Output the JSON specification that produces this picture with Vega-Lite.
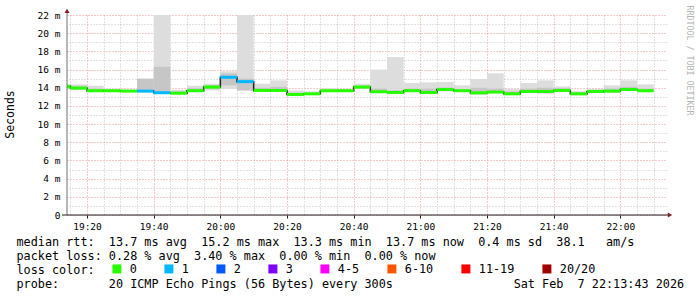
{
  "$schema": "https://vega.github.io/schema/vega-lite/v6.json",
  "width": 600,
  "height": 200,
  "autosize": {"type": "none"},
  "padding": {"left": 67, "top": 15, "right": 30, "bottom": 82},
  "background": "white",
  "config": {"view": {"stroke": null}},
  "datasets": {
    "ping": [
      {"start": "2026-02-07T19:10:00Z", "end": "2026-02-07T19:15:00Z", "med": 14.15, "loss": "0", "lo": 13.89, "hi": 14.37, "lo2": 13.95, "hi2": 14.30},
      {"start": "2026-02-07T19:15:00Z", "end": "2026-02-07T19:20:00Z", "med": 13.96, "loss": "0", "lo": 13.78, "hi": 14.37, "lo2": 13.85, "hi2": 14.22},
      {"start": "2026-02-07T19:20:00Z", "end": "2026-02-07T19:25:00Z", "med": 13.67, "loss": "0", "lo": 13.52, "hi": 14.22, "lo2": 13.56, "hi2": 13.90},
      {"start": "2026-02-07T19:25:00Z", "end": "2026-02-07T19:30:00Z", "med": 13.67, "loss": "0", "lo": 13.52, "hi": 13.89, "lo2": 13.56, "hi2": 13.78},
      {"start": "2026-02-07T19:30:00Z", "end": "2026-02-07T19:35:00Z", "med": 13.63, "loss": "0", "lo": 13.56, "hi": 13.78, "lo2": 13.58, "hi2": 13.70},
      {"start": "2026-02-07T19:35:00Z", "end": "2026-02-07T19:40:00Z", "med": 13.63, "loss": "1", "lo": 13.56, "hi": 15.04, "lo2": 13.56, "hi2": 14.95},
      {"start": "2026-02-07T19:40:00Z", "end": "2026-02-07T19:45:00Z", "med": 13.45, "loss": "1", "lo": 13.40, "hi": 22.00, "lo2": 13.40, "hi2": 16.30},
      {"start": "2026-02-07T19:45:00Z", "end": "2026-02-07T19:50:00Z", "med": 13.40, "loss": "0", "lo": 13.33, "hi": 13.78, "lo2": 13.35, "hi2": 13.60},
      {"start": "2026-02-07T19:50:00Z", "end": "2026-02-07T19:55:00Z", "med": 13.67, "loss": "0", "lo": 13.52, "hi": 14.22, "lo2": 13.56, "hi2": 13.95},
      {"start": "2026-02-07T19:55:00Z", "end": "2026-02-07T20:00:00Z", "med": 14.07, "loss": "0", "lo": 13.70, "hi": 14.44, "lo2": 13.85, "hi2": 14.30},
      {"start": "2026-02-07T20:00:00Z", "end": "2026-02-07T20:05:00Z", "med": 15.15, "loss": "1", "lo": 13.89, "hi": 15.81, "lo2": 14.26, "hi2": 15.56},
      {"start": "2026-02-07T20:05:00Z", "end": "2026-02-07T20:10:00Z", "med": 14.67, "loss": "1", "lo": 13.70, "hi": 22.00, "lo2": 13.70, "hi2": 15.00},
      {"start": "2026-02-07T20:10:00Z", "end": "2026-02-07T20:15:00Z", "med": 13.70, "loss": "0", "lo": 13.59, "hi": 14.44, "lo2": 13.62, "hi2": 14.00},
      {"start": "2026-02-07T20:15:00Z", "end": "2026-02-07T20:20:00Z", "med": 13.70, "loss": "0", "lo": 13.70, "hi": 14.81, "lo2": 13.70, "hi2": 14.10},
      {"start": "2026-02-07T20:20:00Z", "end": "2026-02-07T20:25:00Z", "med": 13.26, "loss": "0", "lo": 13.15, "hi": 13.70, "lo2": 13.18, "hi2": 13.45},
      {"start": "2026-02-07T20:25:00Z", "end": "2026-02-07T20:30:00Z", "med": 13.33, "loss": "0", "lo": 13.26, "hi": 13.59, "lo2": 13.28, "hi2": 13.45},
      {"start": "2026-02-07T20:30:00Z", "end": "2026-02-07T20:35:00Z", "med": 13.67, "loss": "0", "lo": 13.52, "hi": 13.93, "lo2": 13.56, "hi2": 13.80},
      {"start": "2026-02-07T20:35:00Z", "end": "2026-02-07T20:40:00Z", "med": 13.67, "loss": "0", "lo": 13.56, "hi": 13.85, "lo2": 13.58, "hi2": 13.75},
      {"start": "2026-02-07T20:40:00Z", "end": "2026-02-07T20:45:00Z", "med": 14.07, "loss": "0", "lo": 13.89, "hi": 14.44, "lo2": 13.95, "hi2": 14.25},
      {"start": "2026-02-07T20:45:00Z", "end": "2026-02-07T20:50:00Z", "med": 13.56, "loss": "0", "lo": 13.41, "hi": 16.00, "lo2": 13.45, "hi2": 13.90},
      {"start": "2026-02-07T20:50:00Z", "end": "2026-02-07T20:55:00Z", "med": 13.48, "loss": "0", "lo": 13.33, "hi": 17.37, "lo2": 13.40, "hi2": 13.70},
      {"start": "2026-02-07T20:55:00Z", "end": "2026-02-07T21:00:00Z", "med": 13.67, "loss": "0", "lo": 13.52, "hi": 14.52, "lo2": 13.56, "hi2": 13.90},
      {"start": "2026-02-07T21:00:00Z", "end": "2026-02-07T21:05:00Z", "med": 13.48, "loss": "0", "lo": 13.33, "hi": 14.59, "lo2": 13.40, "hi2": 13.90},
      {"start": "2026-02-07T21:05:00Z", "end": "2026-02-07T21:10:00Z", "med": 13.81, "loss": "0", "lo": 13.59, "hi": 14.63, "lo2": 13.65, "hi2": 14.00},
      {"start": "2026-02-07T21:10:00Z", "end": "2026-02-07T21:15:00Z", "med": 13.67, "loss": "0", "lo": 13.52, "hi": 14.26, "lo2": 13.56, "hi2": 13.85},
      {"start": "2026-02-07T21:15:00Z", "end": "2026-02-07T21:20:00Z", "med": 13.44, "loss": "0", "lo": 13.22, "hi": 14.96, "lo2": 13.30, "hi2": 14.00},
      {"start": "2026-02-07T21:20:00Z", "end": "2026-02-07T21:25:00Z", "med": 13.52, "loss": "0", "lo": 13.41, "hi": 15.59, "lo2": 13.45, "hi2": 13.90},
      {"start": "2026-02-07T21:25:00Z", "end": "2026-02-07T21:30:00Z", "med": 13.33, "loss": "0", "lo": 13.26, "hi": 13.89, "lo2": 13.28, "hi2": 13.60},
      {"start": "2026-02-07T21:30:00Z", "end": "2026-02-07T21:35:00Z", "med": 13.59, "loss": "0", "lo": 13.41, "hi": 14.52, "lo2": 13.45, "hi2": 13.90},
      {"start": "2026-02-07T21:35:00Z", "end": "2026-02-07T21:40:00Z", "med": 13.59, "loss": "0", "lo": 13.33, "hi": 14.81, "lo2": 13.45, "hi2": 14.00},
      {"start": "2026-02-07T21:40:00Z", "end": "2026-02-07T21:45:00Z", "med": 13.70, "loss": "0", "lo": 13.52, "hi": 14.15, "lo2": 13.58, "hi2": 13.95},
      {"start": "2026-02-07T21:45:00Z", "end": "2026-02-07T21:50:00Z", "med": 13.33, "loss": "0", "lo": 13.15, "hi": 13.63, "lo2": 13.20, "hi2": 13.50},
      {"start": "2026-02-07T21:50:00Z", "end": "2026-02-07T21:55:00Z", "med": 13.59, "loss": "0", "lo": 13.41, "hi": 13.85, "lo2": 13.45, "hi2": 13.75},
      {"start": "2026-02-07T21:55:00Z", "end": "2026-02-07T22:00:00Z", "med": 13.63, "loss": "0", "lo": 13.41, "hi": 14.26, "lo2": 13.50, "hi2": 13.90},
      {"start": "2026-02-07T22:00:00Z", "end": "2026-02-07T22:05:00Z", "med": 13.81, "loss": "0", "lo": 13.70, "hi": 14.81, "lo2": 13.72, "hi2": 14.10},
      {"start": "2026-02-07T22:05:00Z", "end": "2026-02-07T22:10:00Z", "med": 13.67, "loss": "0", "lo": 13.52, "hi": 14.37, "lo2": 13.56, "hi2": 13.90}
    ],
    "frame": [
      {"part": "y", "t": "2026-02-07T19:14:00Z", "t2": "2026-02-07T19:14:00Z", "v": 0, "v2": 22.45},
      {"part": "x", "t": "2026-02-07T19:12:30Z", "t2": "2026-02-07T22:14:54Z", "v": 0, "v2": 0}
    ]
  },
  "resolve": {"axis": {"x": "independent", "y": "independent"}},
  "layer": [
    {
      "data": {"name": "ping"},
      "mark": {"type": "point", "opacity": 0},
      "encoding": {
        "x": {"field": "start", "type": "temporal",
          "scale": {"type": "utc", "nice": false, "domain": [1770491640000, 1770502440000]},
          "axis": {"orient": "bottom", "values": [1770491700000, 1770492300000, 1770492600000, 1770492900000, 1770493500000, 1770493800000, 1770494100000, 1770494700000, 1770495000000, 1770495300000, 1770495900000, 1770496200000, 1770496500000, 1770497100000, 1770497400000, 1770497700000, 1770498300000, 1770498600000, 1770498900000, 1770499500000, 1770499800000, 1770500100000, 1770500700000, 1770501000000, 1770501300000, 1770501900000, 1770502200000],
            "grid": true, "gridColor": "#c4c4c4", "gridDash": [1, 2], "gridWidth": 1, "labels": false, "ticks": false, "domain": false, "title": null}},
        "y": {"field": "med", "type": "quantitative",
          "scale": {"domain": [0, 22], "nice": false, "zero": false},
          "axis": {"orient": "right", "values": [1, 3, 5, 7, 9, 11, 13, 15, 17, 19, 21], "grid": true, "gridColor": "#c4c4c4", "gridDash": [1, 2], "gridWidth": 1, "labels": false, "ticks": false, "domain": false,
            "title": "RRDTOOL / TOBI OETIKER", "titleAngle": 90, "titleX": 21, "titleY": 45, "titleAlign": "center", "titleBaseline": "middle", "titleFont": "DejaVu Sans Mono", "titleFontSize": 8.3, "titleFontWeight": "normal", "titleColor": "#b4b4b4"}}
      }
    },
    {
      "data": {"name": "ping"},
      "mark": {"type": "rect", "color": "#dddddd", "clip": true},
      "encoding": {
        "x": {"field": "start", "type": "temporal",
          "scale": {"type": "utc", "nice": false, "domain": [1770491640000, 1770502440000]},
          "axis": {"orient": "bottom", "values": [1770492000000, 1770493200000, 1770494400000, 1770495600000, 1770496800000, 1770498000000, 1770499200000, 1770500400000, 1770501600000],
            "format": "%H:%M", "grid": true, "gridColor": "#eb9595", "gridDash": [1, 2], "gridWidth": 1, "domain": false, "ticks": true, "tickSize": 3, "tickColor": "#1f1f1f", "labelFont": "DejaVu Sans Mono", "labelFontSize": 9.5, "labelColor": "black", "labelPadding": 3,
            "title": [
              "median\u00a0rtt:\u00a0\u00a013.7\u00a0ms\u00a0avg\u00a0\u00a015.2\u00a0ms\u00a0max\u00a0\u00a013.3\u00a0ms\u00a0min\u00a0\u00a013.7\u00a0ms\u00a0now\u00a0\u00a00.4\u00a0ms\u00a0sd\u00a0\u00a038.1\u00a0\u00a0\u00a0am/s",
              "packet\u00a0loss:\u00a00.28\u00a0%\u00a0avg\u00a0\u00a03.40\u00a0%\u00a0max\u00a0\u00a00.00\u00a0%\u00a0min\u00a0\u00a00.00\u00a0%\u00a0now",
              "loss\u00a0color:",
              "probe:\u00a0\u00a0\u00a0\u00a0\u00a0\u00a0\u00a020\u00a0ICMP\u00a0Echo\u00a0Pings\u00a0(56\u00a0Bytes)\u00a0every\u00a0300s\u00a0\u00a0\u00a0\u00a0\u00a0\u00a0\u00a0\u00a0\u00a0\u00a0\u00a0\u00a0\u00a0\u00a0\u00a0\u00a0\u00a0Sat\u00a0Feb\u00a0\u00a07\u00a022:13:43\u00a02026"
            ],
            "titleX": -51, "titleY": 30, "titleAlign": "left", "titleBaseline": "alphabetic", "titleFont": "DejaVu Sans Mono", "titleFontSize": 11.8, "titleFontWeight": "normal", "titleColor": "black", "titleLineHeight": 14}},
        "x2": {"field": "end"},
        "y": {"field": "lo", "type": "quantitative",
          "scale": {"domain": [0, 22], "nice": false, "zero": false},
          "axis": {"orient": "left", "values": [0, 2, 4, 6, 8, 10, 12, 14, 16, 18, 20, 22], "labelExpr": "datum.value == 0 ? '0' : datum.value + ' m'", "grid": true, "gridColor": "#eb9595", "gridDash": [1, 2], "gridWidth": 1, "domain": false, "ticks": false, "labelPadding": 7, "labelFont": "DejaVu Sans Mono", "labelFontSize": 9.5, "labelColor": "black",
            "title": "Seconds", "titleX": -57, "titleY": 99, "titleAngle": 270, "titleAlign": "center", "titleBaseline": "middle", "titleFont": "DejaVu Sans Mono", "titleFontSize": 11.5, "titleFontWeight": "normal", "titleColor": "black"}},
        "y2": {"field": "hi"}
      }
    },
    {
      "data": {"name": "ping"},
      "mark": {"type": "rect", "color": "#c6c6c6", "clip": true},
      "encoding": {
        "x": {"field": "start", "type": "temporal", "axis": null},
        "x2": {"field": "end"},
        "y": {"field": "lo2", "type": "quantitative", "axis": null},
        "y2": {"field": "hi2"}
      }
    },
    {
      "data": {"name": "ping"},
      "mark": {"type": "line", "interpolate": "step-after", "color": "#222222", "strokeWidth": 1.5, "clip": true},
      "encoding": {
        "x": {"field": "start", "type": "temporal", "axis": null},
        "y": {"field": "med", "type": "quantitative", "axis": null}
      }
    },
    {
      "data": {"name": "ping"},
      "mark": {"type": "rule", "strokeWidth": 3, "strokeCap": "butt", "clip": true},
      "encoding": {
        "x": {"field": "start", "type": "temporal", "axis": null},
        "x2": {"field": "end"},
        "y": {"field": "med", "type": "quantitative", "axis": null},
        "color": {"field": "loss", "type": "nominal",
          "scale": {"domain": ["0", "1", "2", "3", "4-5", "6-10", "11-19", "20/20"], "range": ["#26ff00", "#00b8ff", "#0059ff", "#7e00ff", "#ff00ff", "#ff5500", "#ff0000", "#a10000"]},
          "legend": {"title": null, "orient": "none", "legendX": 44, "legendY": 248, "direction": "horizontal",
            "labelFont": "DejaVu Sans Mono", "labelFontSize": 11.8, "labelColor": "black", "labelOffset": 7, "symbolType": "square", "symbolSize": 16, "symbolStrokeWidth": 5, "columnPadding": 19, "padding": 0}}
      }
    },
    {
      "data": {"name": "frame"},
      "mark": {"type": "rule", "strokeWidth": 1},
      "encoding": {
        "x": {"field": "t", "type": "temporal", "axis": null},
        "x2": {"field": "t2"},
        "y": {"field": "v", "type": "quantitative", "axis": null},
        "y2": {"field": "v2"},
        "stroke": {"field": "part", "type": "nominal", "scale": {"domain": ["x", "y"], "range": ["#1f1f1f", "#707070"]}, "legend": null}
      }
    },
    {
      "data": {"name": "frame"},
      "transform": [{"filter": "datum.part == 'y'"}],
      "mark": {"type": "point", "shape": "triangle-up", "filled": true, "color": "#801f1f", "size": 25, "opacity": 1},
      "encoding": {
        "x": {"field": "t", "type": "temporal", "axis": null},
        "y": {"field": "v2", "type": "quantitative", "axis": null}
      }
    },
    {
      "data": {"name": "frame"},
      "transform": [{"filter": "datum.part == 'x'"}],
      "mark": {"type": "point", "shape": "triangle-right", "filled": true, "color": "#801f1f", "size": 25, "opacity": 1},
      "encoding": {
        "x": {"field": "t2", "type": "temporal", "axis": null},
        "y": {"field": "v", "type": "quantitative", "axis": null}
      }
    }
  ]
}
